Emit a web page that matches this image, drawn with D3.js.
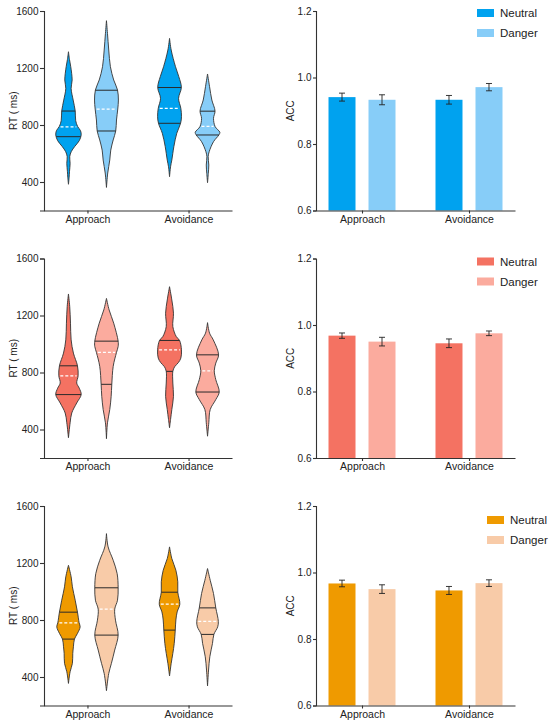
<!DOCTYPE html>
<html>
<head>
<meta charset="utf-8">
<script src="https://cdn.jsdelivr.net/npm/d3@7"></script>
<style>
  body { margin: 0; background: #fff; }
  svg { display: block; font-family: "Liberation Sans", Arial, sans-serif; }
</style>
</head>
<body>
<svg id="chart" width="550" height="727"></svg>
<script>
// ---- data ----
const groups = ["Approach", "Avoidance"];
const conditions = ["Neutral", "Danger"];
const rtDomain = [200, 1600];
const rtTicks = [400, 800, 1200, 1600];
const accDomain = [0.6, 1.2];
const accTicks = [0.6, 0.8, 1.0, 1.2];

const neutralColors = ["#00a2ef", "#f47262", "#ef9a00"];
const dangerColors = ["#87cdf8", "#fbab9e", "#f8cba8"];

// ACC means / error, order: Approach-Neutral, Approach-Danger, Avoidance-Neutral, Avoidance-Danger
const accMean1 = [0.941, 0.933, 0.933, 0.971];
const accErr1 = [0.012, 0.015, 0.013, 0.011];
const accMean2 = [0.968, 0.950, 0.945, 0.975];
const accErr2 = [0.008, 0.013, 0.013, 0.007];
const accMean3 = [0.967, 0.950, 0.946, 0.968];
const accErr3 = [0.010, 0.013, 0.012, 0.010];

// RT quartiles [Q1, median, Q3], same order
const rtQuart1 = [[718, 787, 898], [758, 912, 1044], [812, 917, 1063], [730, 790, 897]];
const rtQuart2 = [[645, 777, 847], [717, 941, 1020], [808, 959, 1025], [663, 812, 924]];
const rtQuart3 = [[666, 780, 855], [694, 876, 1026], [729, 911, 995], [699, 790, 885]];

// RT density profiles [rt, relative density], same order
const rtDens1 = [
  [[384,0],[430,0.05],[472,0.08],[531,0.13],[578,0.10],[613,0.22],[650,0.5],[690,0.85],[730,1.0],[760,0.95],[790,0.72],[830,0.57],[900,0.53],[975,0.37],[1057,0.21],[1116,0.29],[1209,0.18],[1260,0.08],[1314,0]],
  [[362,0],[463,0.10],[554,0.26],[624,0.34],[695,0.53],[758,0.73],[835,0.79],[912,0.89],[975,0.94],[1046,0.87],[1116,0.57],[1209,0.31],[1326,0.18],[1443,0.08],[1532,0]],
  [[437,0],[507,0.08],[554,0.18],[648,0.34],[742,0.57],[812,0.87],[858,0.94],[917,0.89],[987,0.71],[1064,0.93],[1139,0.73],[1209,0.47],[1326,0.13],[1408,0]],
  [[395,0],[461,0.06],[519,0.10],[578,0.05],[613,0.13],[683,0.47],[730,0.89],[749,0.97],[788,0.6],[847,0.47],[898,0.59],[975,0.34],[1069,0.16],[1158,0]]
];
const rtDens2 = [
  [[342,0],[447,0.13],[516,0.26],[586,0.65],[645,1.0],[690,0.85],[726,0.65],[777,0.76],[847,0.71],[936,0.39],[1029,0.21],[1146,0.16],[1262,0.10],[1351,0]],
  [[335,0],[447,0.08],[540,0.26],[633,0.37],[717,0.42],[843,0.53],[941,0.79],[983,0.92],[1020,0.92],[1146,0.57],[1239,0.21],[1320,0]],
  [[412,0],[470,0.08],[540,0.18],[633,0.31],[726,0.26],[808,0.26],[840,0.4],[870,0.7],[901,0.89],[959,0.94],[1025,0.79],[1052,0.53],[1122,0.26],[1216,0.31],[1309,0.18],[1402,0]],
  [[353,0],[447,0.10],[540,0.21],[610,0.65],[663,0.92],[750,0.65],[812,0.53],[866,0.65],[924,0.87],[1029,0.45],[1076,0.16],[1150,0]]
];
const rtDens3 = [
  [[355,0],[437,0.13],[496,0.31],[566,0.34],[612,0.39],[666,0.47],[706,0.71],[752,0.92],[780,0.84],[855,0.71],[939,0.53],[1033,0.31],[1103,0.21],[1184,0]],
  [[304,0],[425,0.18],[496,0.39],[589,0.65],[694,0.92],[799,0.71],[876,0.65],[939,0.87],[1026,0.92],[1126,0.84],[1219,0.53],[1313,0.13],[1406,0]],
  [[407,0],[496,0.13],[566,0.26],[636,0.37],[729,0.45],[800,0.5],[857,0.6],[911,0.81],[995,0.65],[1068,0.65],[1149,0.5],[1231,0.18],[1313,0]],
  [[337,0],[449,0.08],[542,0.18],[636,0.39],[699,0.5],[752,0.8],[790,0.85],[885,0.65],[986,0.47],[1079,0.21],[1161,0]]
];

const experiments = [
  { mean: accMean1, err: accErr1, quart: rtQuart1, dens: rtDens1 },
  { mean: accMean2, err: accErr2, quart: rtQuart2, dens: rtDens2 },
  { mean: accMean3, err: accErr3, quart: rtQuart3, dens: rtDens3 }
];

// ---- layout ----
const svg = d3.select("#chart");
const rowTop = [11, 258.5, 506];
const plotH = 199.5;
const leftX = [44, 232];
const rightX = [316, 515];
const legendPos = [[477, -2], [477, -1], [487, 10]];
const axisColor = "#333";

const xGroupL = d3.scalePoint().domain(groups).range(leftX).padding(0.43);
const xCondL = d3.scalePoint().domain(conditions).range([-19, 19]);
const xGroupR = d3.scalePoint().domain(groups).range(rightX).padding(0.43);
const xCondR = d3.scaleBand().domain(conditions).range([-33.5, 33.5]).paddingInner(0.325);
const wScale = d3.scaleLinear().domain([0, 1]).range([0, 12.7]);

function densAt(profile, v) {
  for (let i = 1; i < profile.length; i++) {
    const a = profile[i - 1], b = profile[i];
    if (v >= a[0] && v <= b[0]) return a[1] + (b[1] - a[1]) * (v - a[0]) / (b[0] - a[0]);
  }
  return 0;
}

function styleAxis(g) {
  g.select(".domain").attr("stroke", axisColor).attr("stroke-width", 1.1);
  g.selectAll(".tick line").attr("stroke", axisColor).attr("stroke-width", 1.1);
  g.selectAll(".tick text").attr("fill", "#222").style("font-family", '"Liberation Sans", Arial, sans-serif');
}

experiments.forEach((ex, r) => {
  const top = rowTop[r];
  const bottom = top + plotH;
  const colors = [neutralColors[r], dangerColors[r]];

  // ----- violin panel -----
  const yRT = d3.scaleLinear().domain(rtDomain).range([bottom, top]);
  const gL = svg.append("g");

  gL.append("g")
    .attr("transform", `translate(${leftX[0]},0)`)
    .call(d3.axisLeft(yRT).tickValues(rtTicks).tickFormat(d3.format("d")).tickSize(4).tickPadding(1.5))
    .call(styleAxis)
    .selectAll("text").style("font-size", "10px");

  gL.append("g")
    .attr("transform", `translate(0,${bottom})`)
    .call(d3.axisBottom(xGroupL).tickSize(3).tickPadding(2).tickSizeOuter(0))
    .call(styleAxis)
    .selectAll("text").style("font-size", "10.5px");

  gL.append("text")
    .attr("transform", `translate(13,${(top + bottom) / 2}) rotate(-90)`)
    .attr("text-anchor", "middle")
    .attr("dy", "0.35em")
    .style("font-size", "10px")
    .attr("fill", "#222")
    .text("RT ( ms)");

  groups.forEach((grp, gi) => {
    conditions.forEach((cond, ci) => {
      const k = gi * 2 + ci;
      const cx = xGroupL(grp) + xCondL(cond);
      const prof = ex.dens[k];
      const area = d3.area()
        .curve(d3.curveCatmullRom.alpha(0.5))
        .y(d => yRT(d[0]))
        .x0(d => cx - wScale(d[1]))
        .x1(d => cx + wScale(d[1]));
      gL.append("path")
        .datum(prof)
        .attr("d", area)
        .attr("fill", colors[ci])
        .attr("stroke", "#333")
        .attr("stroke-width", 0.9)
        .attr("stroke-linejoin", "round");

      const [q1, med, q3] = ex.quart[k];
      [q1, q3].forEach(q => {
        const hw = wScale(densAt(prof, q));
        gL.append("line")
          .attr("x1", cx - hw).attr("x2", cx + hw)
          .attr("y1", yRT(q)).attr("y2", yRT(q))
          .attr("stroke", "#2a2a2a").attr("stroke-width", 1);
      });
      const hwm = Math.max(0, wScale(densAt(prof, med)) - 1.5);
      gL.append("line")
        .attr("x1", cx - hwm).attr("x2", cx + hwm)
        .attr("y1", yRT(med)).attr("y2", yRT(med))
        .attr("stroke", "#fff").attr("stroke-width", 1.3)
        .attr("stroke-dasharray", "3,2");
    });
  });

  // ----- bar panel -----
  const yAcc = d3.scaleLinear().domain(accDomain).range([bottom, top]);
  const gR = svg.append("g");

  groups.forEach((grp, gi) => {
    conditions.forEach((cond, ci) => {
      const k = gi * 2 + ci;
      const x0 = xGroupR(grp) + xCondR(cond);
      const bw = xCondR.bandwidth();
      const m = ex.mean[k], e = ex.err[k];
      gR.append("rect")
        .attr("x", x0).attr("width", bw)
        .attr("y", yAcc(m)).attr("height", yAcc(accDomain[0]) - yAcc(m))
        .attr("fill", colors[ci]);
      const cxb = x0 + bw / 2;
      const eb = gR.append("g").attr("stroke", "#222").attr("stroke-width", 0.9);
      eb.append("line").attr("x1", cxb).attr("x2", cxb).attr("y1", yAcc(m - e)).attr("y2", yAcc(m + e));
      [m - e, m + e].forEach(v => {
        eb.append("line").attr("x1", cxb - 3).attr("x2", cxb + 3).attr("y1", yAcc(v)).attr("y2", yAcc(v));
      });
    });
  });

  gR.append("g")
    .attr("transform", `translate(${rightX[0]},0)`)
    .call(d3.axisLeft(yAcc).tickValues(accTicks).tickFormat(d3.format(".1f")).tickSize(3).tickPadding(1.5))
    .call(styleAxis)
    .selectAll("text").style("font-size", "10px");

  const xAxR = gR.append("g")
    .attr("transform", `translate(0,${bottom})`)
    .call(d3.axisBottom(xGroupR).tickSize(3).tickPadding(2).tickSizeOuter(0))
    .call(styleAxis);
  xAxR.selectAll("text").style("font-size", "10.5px");

  gR.append("text")
    .attr("transform", `translate(290,${(top + bottom) / 2}) rotate(-90)`)
    .attr("text-anchor", "middle")
    .attr("dy", "0.35em")
    .style("font-size", "10px")
    .attr("fill", "#222")
    .text("ACC");

  // legend
  const [lx, ly] = legendPos[r];
  conditions.forEach((cond, ci) => {
    const yy = top + ly + ci * 20;
    gR.append("rect")
      .attr("x", lx).attr("y", yy)
      .attr("width", 17).attr("height", 8)
      .attr("fill", colors[ci]);
    gR.append("text")
      .attr("x", lx + 23).attr("y", yy + 4)
      .attr("dy", "0.35em")
      .style("font-size", "11.5px")
      .attr("fill", "#222")
      .text(cond);
  });
});
</script>
</body>
</html>
